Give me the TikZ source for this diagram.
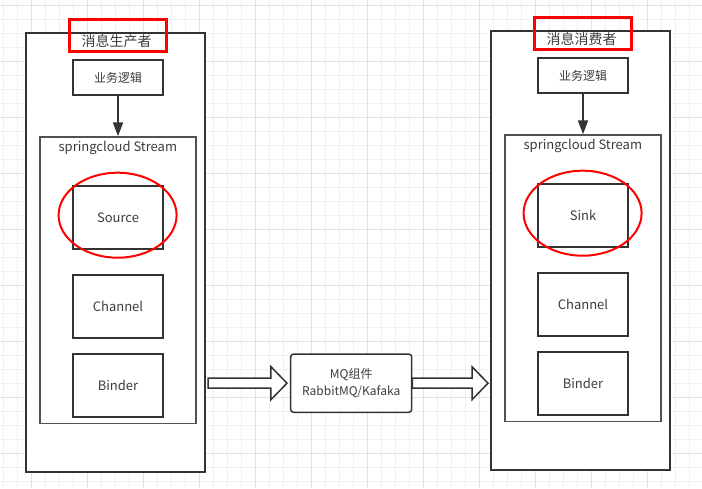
\documentclass[tikz,border=0pt]{standalone}
\usepackage{fontspec}
\setmainfont{Noto Sans CJK SC}
\usepackage{tikz}
\usetikzlibrary{arrows.meta, positioning, calc}
\definecolor{ink}{HTML}{333333}
\definecolor{textgray}{HTML}{3C3C3C}
\definecolor{gridminor}{HTML}{F0F0F0}
\definecolor{gridmajor}{HTML}{E2E2E2}
\definecolor{markred}{HTML}{FF0000}

\begin{document}
\begin{tikzpicture}[
  x=1pt, y=-1pt,
  frame/.style={draw=ink, line width=2pt, fill=white, inner sep=0pt},
  stream/.style={draw=ink!85, line width=1.6pt, fill=white},
  part/.style={draw=ink, line width=2pt, fill=white, minimum width=90.6, minimum height=63,
    inner sep=0pt, text=textgray, font=\fontsize{13}{15}\selectfont},
  lbl/.style={text=textgray, inner sep=0pt, font=\fontsize{13}{15}\selectfont},
  tag/.style={text=textgray, inner sep=0pt, font=\fontsize{14}{16}\selectfont},
  highlight/.style={draw=markred, line width=3pt},
  ring/.style={draw=markred, line width=2pt},
  flow/.style={draw=ink, line width=2pt, -{Triangle[length=14pt, width=10pt]}},
  blockarrow/.style={draw=ink, line width=1.5pt, fill=white, line join=miter},
  mqbox/.style={draw=ink, line width=1.5pt, fill=white, rounded corners=3pt, align=center,
    minimum width=121, minimum height=58.3, text=textgray, font=\fontsize{12}{17.5}\selectfont}
]
\useasboundingbox (0,0) rectangle (702,488);

% Grid
\foreach \gx in {3.7,17.7,...,702} \draw[gridminor, line width=0.8pt] (\gx,0) -- (\gx,488);
\foreach \gy in {5.3,19.3,...,488} \draw[gridminor, line width=0.8pt] (0,\gy) -- (702,\gy);
\foreach \gx in {31.7,87.7,...,702} \draw[gridmajor, line width=0.8pt] (\gx,0) -- (\gx,488);
\foreach \gy in {5.3,61.3,...,488} \draw[gridmajor, line width=0.8pt] (0,\gy) -- (702,\gy);

% Producer and consumer
\foreach \s/\dx/\dy/\role/\core in {prod/0/0/消息生产者/Source, cons/465/-2/消息消费者/Sink}{
  \begin{scope}[shift={(\dx,\dy)}]
    \node[frame, minimum width=179, minimum height=439] (\s-outer) at (115.5,252.5) {};
    \node[tag] (\s-title) at (116.5,41.5) {\role};
    \node[frame, minimum width=90.6, minimum height=35, text=textgray,
      font=\fontsize{12}{14}\selectfont] (\s-biz) at (118,77.5) {业务逻辑};
    \node[stream, minimum width=155.7, minimum height=286.3] (\s-stream) at (117.85,280.2) {};
    \node[lbl, below=4.5pt of \s-stream.north] (\s-name) {springcloud Stream};
    \foreach \n/\t/\y in {core/\core/217.5, chan/Channel/306.3, bind/Binder/385.3}
      \node[part] (\s-\n) at (118,\y) {\t};
    \draw[flow] (\s-biz.south) -- (\s-biz.south |- \s-stream.north);
    % red marks
    \draw[ring] ($(\s-core.center)+(-0.4,-2.3)$) ellipse [x radius=59pt, y radius=42.5pt];
    \node[highlight, minimum width=97, minimum height=32] (\s-mark) at (117.5,35.5) {};
  \end{scope}
}

% MQ
\node[mqbox] (mq) at (351.2,383.2) {MQ组件\\RabbitMQ/Kafaka};
\coordinate (arrAs) at ($(prod-outer.east |- mq.west)+(2,0)$);
\coordinate (arrAe) at ($(mq.west)+(-3,0)$);
\coordinate (arrBs) at (mq.east);
\coordinate (arrBe) at ($(cons-outer.west |- mq.east)+(-2,0)$);
\foreach \a/\b in {arrAs/arrAe, arrBs/arrBe}
  \draw[blockarrow] let \p1=(\a), \p2=(\b) in
    (\x1,\y2+5pt) -- (\x2-16pt,\y2+5pt) -- (\x2-16pt,\y2+16.5pt) -- (\p2)
    -- (\x2-16pt,\y2-16.5pt) -- (\x2-16pt,\y2-5pt) -- (\x1,\y2-5pt) -- cycle;

\end{tikzpicture}
\end{document}
